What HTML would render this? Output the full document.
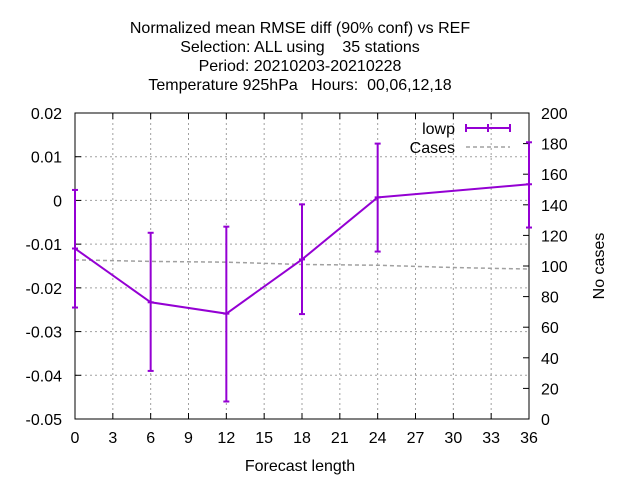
<!DOCTYPE html>
<html><head><meta charset="utf-8"><style>
body{margin:0;background:#fff}
svg{display:block;font-family:"Liberation Sans",sans-serif}
</style></head><body>
<svg id="chart" width="640" height="480">
<g font-size="16" text-anchor="middle" fill="#000">
<text x="300" y="33">Normalized mean RMSE diff (90% conf) vs REF</text>
<text x="300" y="52" xml:space="preserve">Selection: ALL using    35 stations</text>
<text x="300" y="71">Period: 20210203-20210228</text>
<text x="300" y="90" xml:space="preserve">Temperature 925hPa   Hours:  00,06,12,18</text>
</g>
<g id="grid"></g>
<g id="axes"></g>
<g id="series"></g>
<text x="300" y="471" font-size="16" text-anchor="middle">Forecast length</text>
<text transform="translate(604,266) rotate(-90)" font-size="16" text-anchor="middle">No cases</text>
<g font-size="16">
<g>
<text x="455" y="134" text-anchor="end">lowp</text>
<line x1="466" y1="128" x2="510" y2="128" stroke="#9400d3" stroke-width="2"/>
<line x1="466" y1="124" x2="466" y2="132" stroke="#9400d3" stroke-width="2"/>
<line x1="510" y1="124" x2="510" y2="132" stroke="#9400d3" stroke-width="2"/>
<line x1="488" y1="124" x2="488" y2="132" stroke="#9400d3" stroke-width="2"/>
</g>
<g>
<text x="455" y="153" text-anchor="end">Cases</text>
<line x1="466" y1="147" x2="510" y2="147" stroke="#a0a0a0" stroke-width="1.5" stroke-dasharray="4,3"/>
</g>
</g>
</svg>
<script>
const hours=[0,6,12,18,24,36];
const lowp=[-0.011,-0.0233,-0.0259,-0.0135,0.0007,0.0037];
const lowpHi=[0.0024,-0.0074,-0.006,-0.0009,0.013,0.0133];
const lowpLo=[-0.0245,-0.039,-0.046,-0.026,-0.0117,-0.0062];
const caseHours=[0,6,12,18,24,30,36];
const cases=[104,103,102.5,101,100.5,99,98];
const xTicks=[0,3,6,9,12,15,18,21,24,27,30,33,36];
const yTicks=[0.02,0.01,0,-0.01,-0.02,-0.03,-0.04,-0.05];
const yTickLabels=["0.02","0.01","0","-0.01","-0.02","-0.03","-0.04","-0.05"];
const y2Ticks=[0,20,40,60,80,100,120,140,160,180,200];
const L=75,R=529,T=113,B=419;
const X=h=>L+(h/36)*(R-L);
const Y=v=>T+(0.02-v)/0.07*(B-T);
const Y2=c=>B-c/200*(B-T);
const NS="http://www.w3.org/2000/svg";
function mk(p,tag,a){const e=document.createElementNS(NS,tag);for(const k in a)e.setAttribute(k,a[k]);p.appendChild(e);return e;}
const grid=document.getElementById('grid'),axes=document.getElementById('axes'),ser=document.getElementById('series');
xTicks.forEach(t=>{
 if(t>0&&t<36){const g=mk(grid,'line',{x1:X(t),x2:X(t),y1:T,y2:B,stroke:'#a0a0a0','stroke-dasharray':'2,3'});
 
 }
 mk(axes,'line',{x1:X(t),x2:X(t),y1:B,y2:B-6,stroke:'#000'});
 mk(axes,'line',{x1:X(t),x2:X(t),y1:T,y2:T+6,stroke:'#000'});
 const tx=mk(axes,'text',{x:X(t),y:B+24,'font-size':16,'text-anchor':'middle'});tx.textContent=t;
 
 
});
yTicks.forEach((t,i)=>{
 if(i>0&&i<yTicks.length-1){const g=mk(grid,'line',{x1:L,x2:R,y1:Y(t),y2:Y(t),stroke:'#a0a0a0','stroke-dasharray':'2,3'});
 
 }
 mk(axes,'line',{x1:L,x2:L+6,y1:Y(t),y2:Y(t),stroke:'#000'});
 const tx=mk(axes,'text',{x:L-13,y:Y(t)+6,'font-size':16,'text-anchor':'end'});tx.textContent=yTickLabels[i];
 
 
});
y2Ticks.forEach(t=>{
 mk(axes,'line',{x1:R,x2:R-6,y1:Y2(t),y2:Y2(t),stroke:'#000'});
 const tx=mk(axes,'text',{x:R+12,y:Y2(t)+6,'font-size':16});tx.textContent=t;
 
 
});
const fr=mk(axes,'rect',{x:L,y:T,width:R-L,height:B-T,fill:'none',stroke:'#000'});


const cl=mk(ser,'polyline',{points:caseHours.map((h,i)=>X(h)+','+Y2(cases[i])).join(' '),fill:'none',stroke:'#a0a0a0','stroke-width':1.5,'stroke-dasharray':'4,3'});


const ll=mk(ser,'polyline',{points:hours.map((h,i)=>X(h)+','+Y(lowp[i])).join(' '),fill:'none',stroke:'#9400d3','stroke-width':2});


hours.forEach((h,i)=>{
 const g=mk(ser,'g',{stroke:'#9400d3','stroke-width':2});
 
 
 const x=X(h);
 mk(g,'line',{x1:x,x2:x,y1:Y(lowpHi[i]),y2:Y(lowpLo[i])});
 mk(g,'line',{x1:x-3,x2:x+3,y1:Y(lowpHi[i]),y2:Y(lowpHi[i])});
 mk(g,'line',{x1:x-3,x2:x+3,y1:Y(lowpLo[i]),y2:Y(lowpLo[i])});
 mk(g,'line',{x1:x-3,x2:x+3,y1:Y(lowp[i]),y2:Y(lowp[i])});
});
</script>
</body></html>
